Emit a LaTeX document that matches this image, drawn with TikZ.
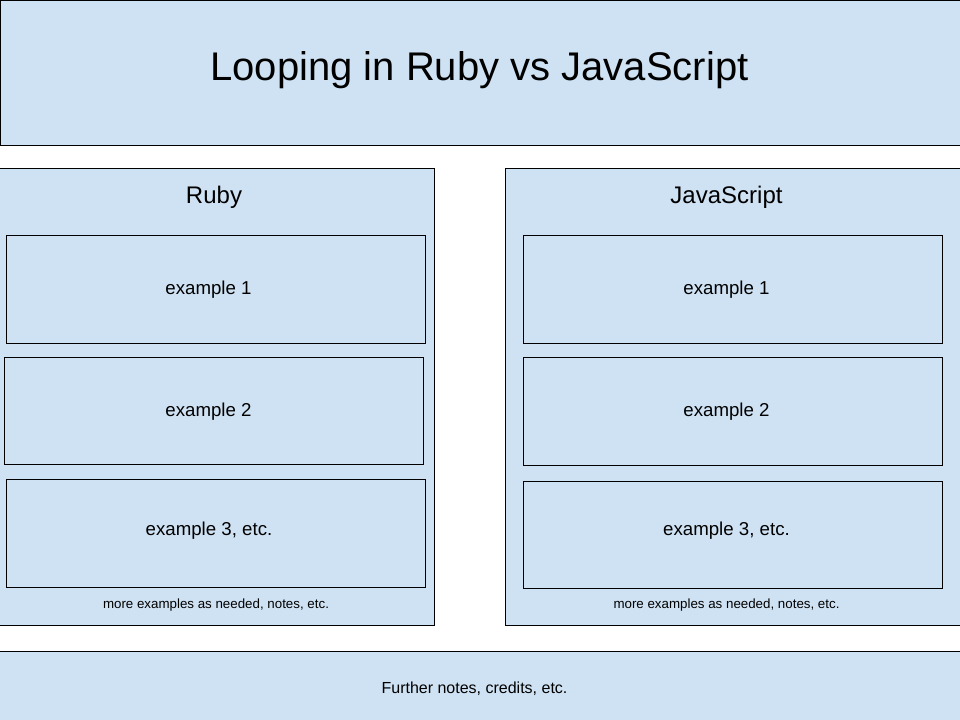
\documentclass[tikz,border=0pt]{standalone}
\usepackage{fontspec}
\setmainfont{Liberation Sans}
\definecolor{boxblue}{HTML}{CFE2F3}
\begin{document}
\begin{tikzpicture}[x=1bp,y=-1bp,
  panel/.style={draw=black,fill=boxblue,line width=1bp},
  lbl/.style={anchor=base,inner sep=0pt,text=black}]
\useasboundingbox (0,0) rectangle (960,720);
\clip (0,0) rectangle (960,720);
\fill[white] (0,0) rectangle (960,720);
% title
\draw[panel] (0.5,0.5) rectangle (962,145.5);
\node[lbl,font=\fontsize{40bp}{48bp}\selectfont] (title) at (479.5,81) {Looping in Ruby vs JavaScript};
% Ruby panel
\draw[panel] (-2,168.5) rectangle (434.5,625.5);
\node[lbl,font=\fontsize{24bp}{29bp}\selectfont] (ruby) at (214,203) {Ruby};
\draw[panel] (6.5,235.5) rectangle (425.5,343.5);
\node[lbl,font=\fontsize{18.67bp}{22bp}\selectfont] (r1) at (208.5,294) {example 1};
\draw[panel] (4.5,357.5) rectangle (423.5,464.5);
\node[lbl,font=\fontsize{18.67bp}{22bp}\selectfont] (r2) at (208.5,416) {example 2};
\draw[panel] (6.5,479.5) rectangle (425.5,587.5);
\node[lbl,font=\fontsize{18.67bp}{22bp}\selectfont] (r3) at (209,535) {example 3, etc.};
\node[lbl,font=\fontsize{13.33bp}{16bp}\selectfont] (rn) at (216,608) {more examples as needed, notes, etc.};
% JS panel
\draw[panel] (505.5,168.5) rectangle (962,625.5);
\node[lbl,font=\fontsize{24bp}{29bp}\selectfont] (js) at (726.5,203) {JavaScript};
\draw[panel] (523.5,235.5) rectangle (942.5,343.5);
\node[lbl,font=\fontsize{18.67bp}{22bp}\selectfont] (j1) at (726.5,294) {example 1};
\draw[panel] (523.5,357.5) rectangle (942.5,465.5);
\node[lbl,font=\fontsize{18.67bp}{22bp}\selectfont] (j2) at (726.5,416) {example 2};
\draw[panel] (523.5,481.5) rectangle (942.5,588.5);
\node[lbl,font=\fontsize{18.67bp}{22bp}\selectfont] (j3) at (726.5,535) {example 3, etc.};
\node[lbl,font=\fontsize{13.33bp}{16bp}\selectfont] (jn) at (726.5,608) {more examples as needed, notes, etc.};
% bottom
\draw[panel] (-2,651.5) rectangle (962,725);
\node[lbl,font=\fontsize{16bp}{19bp}\selectfont] (foot) at (474.5,693) {Further notes, credits, etc.};
\end{tikzpicture}
\end{document}
